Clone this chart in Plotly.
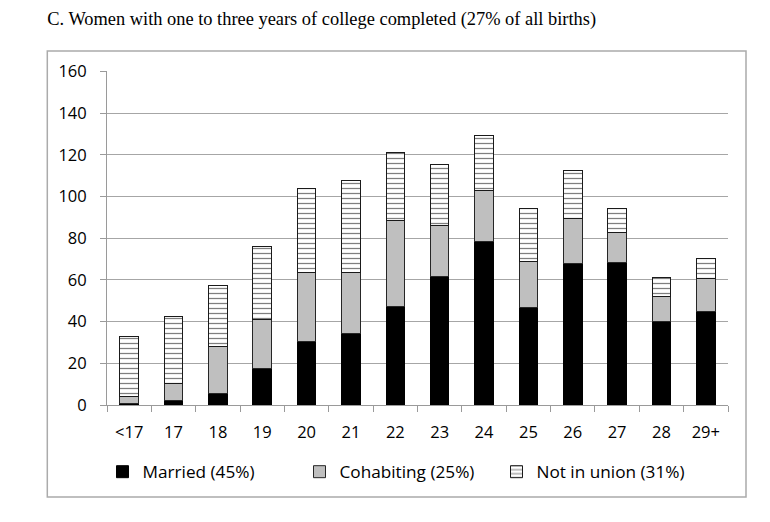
import plotly.graph_objects as go

ages = ["<17", "17", "18", "19", "20", "21", "22", "23", "24", "25", "26", "27", "28", "29+"]
married = [0.8, 2.4, 5.3, 17.7, 30.3, 34.3, 47.1, 61.5, 78.6, 46.9, 67.9, 68.3, 39.9, 44.7]
cohabiting = [3.5, 8.0, 22.6, 23.3, 33.4, 29.1, 41.5, 24.7, 24.4, 22.2, 21.4, 14.7, 12.3, 15.8]
not_in_union = [28.8, 32.2, 29.4, 35.2, 40.1, 44.4, 32.8, 29.1, 26.2, 25.0, 23.1, 11.2, 8.8, 9.9]
y_ticks = [0, 20, 40, 60, 80, 100, 120, 140, 160]

title_text = "C. Women with one to three years of college completed (27% of all births)"
names = ["Married (45%)", "Cohabiting (25%)", "Not in union (31%)"]

# page body has an 8px default margin; work in window pixels and subtract it
OFF = 8
W, H = 770 - OFF, 522 - OFF
L, R, T, B = 107 - OFF, 728 - OFF, 71 - OFF, 405 - OFF

fig = go.Figure()
fig.add_trace(go.Bar(x=ages, y=married, name=names[0],
                     marker=dict(color="black", line=dict(color="black", width=1))))
fig.add_trace(go.Bar(x=ages, y=cohabiting, name=names[1],
                     marker=dict(color="#bfbfbf", line=dict(color="#262626", width=1))))
fig.add_trace(go.Bar(x=ages, y=not_in_union, name=names[2],
                     marker=dict(color="white", line=dict(color="#1a1a1a", width=1),
                                 pattern=dict(shape="-", fgcolor="black", bgcolor="white",
                                              size=5, solidity=0.25))))

pw, ph = R - L, B - T
def px(x):
    return (x - OFF - L) / pw
def py(y):
    return (B - (y - OFF)) / ph

fig.add_shape(type="rect", xref="paper", yref="paper",
              x0=px(47.3), x1=px(746), y0=py(497), y1=py(51),
              line=dict(color="#ababab", width=1.5), fillcolor="rgba(0,0,0,0)", layer="below")

tick_font = dict(family="Open Sans", size=16.5, color="black")
legend_font = dict(family="Open Sans", size=17.2, color="black")

fig.update_layout(
    width=W, height=H,
    margin=dict(l=L, r=W - R, t=T, b=H - B, pad=0),
    paper_bgcolor="white", plot_bgcolor="white",
    barmode="stack", bargap=0.58,
    showlegend=True,
    title=dict(text=title_text, x=(47.3 - OFF) / W, xanchor="left", xref="container",
               y=1 - (19 - OFF) / H, yanchor="middle", yref="container",
               font=dict(family="Liberation Serif", size=18.4, color="black")),
    legend=dict(orientation="h", x=px(398), xanchor="center", y=py(472), yanchor="middle",
                font=legend_font, traceorder="normal", bgcolor="rgba(0,0,0,0)",
                entrywidth=152, entrywidthmode="pixels"),
    xaxis=dict(showline=True, linecolor="#9a9a9a", linewidth=1,
               ticks="outside", ticklen=6, tickcolor="#9a9a9a", tickson="boundaries",
               tickfont=tick_font, showgrid=False, ticklabelstandoff=12),
    yaxis=dict(range=[0, 160.3], tickvals=y_ticks, showline=True, linecolor="#9a9a9a", linewidth=1,
               ticks="outside", ticklen=6, tickcolor="#9a9a9a",
               showgrid=True, gridcolor="#a6a6a6", gridwidth=1, zeroline=False,
               tickfont=tick_font, ticklabelstandoff=10),
)

fig.write_html("out.html")
